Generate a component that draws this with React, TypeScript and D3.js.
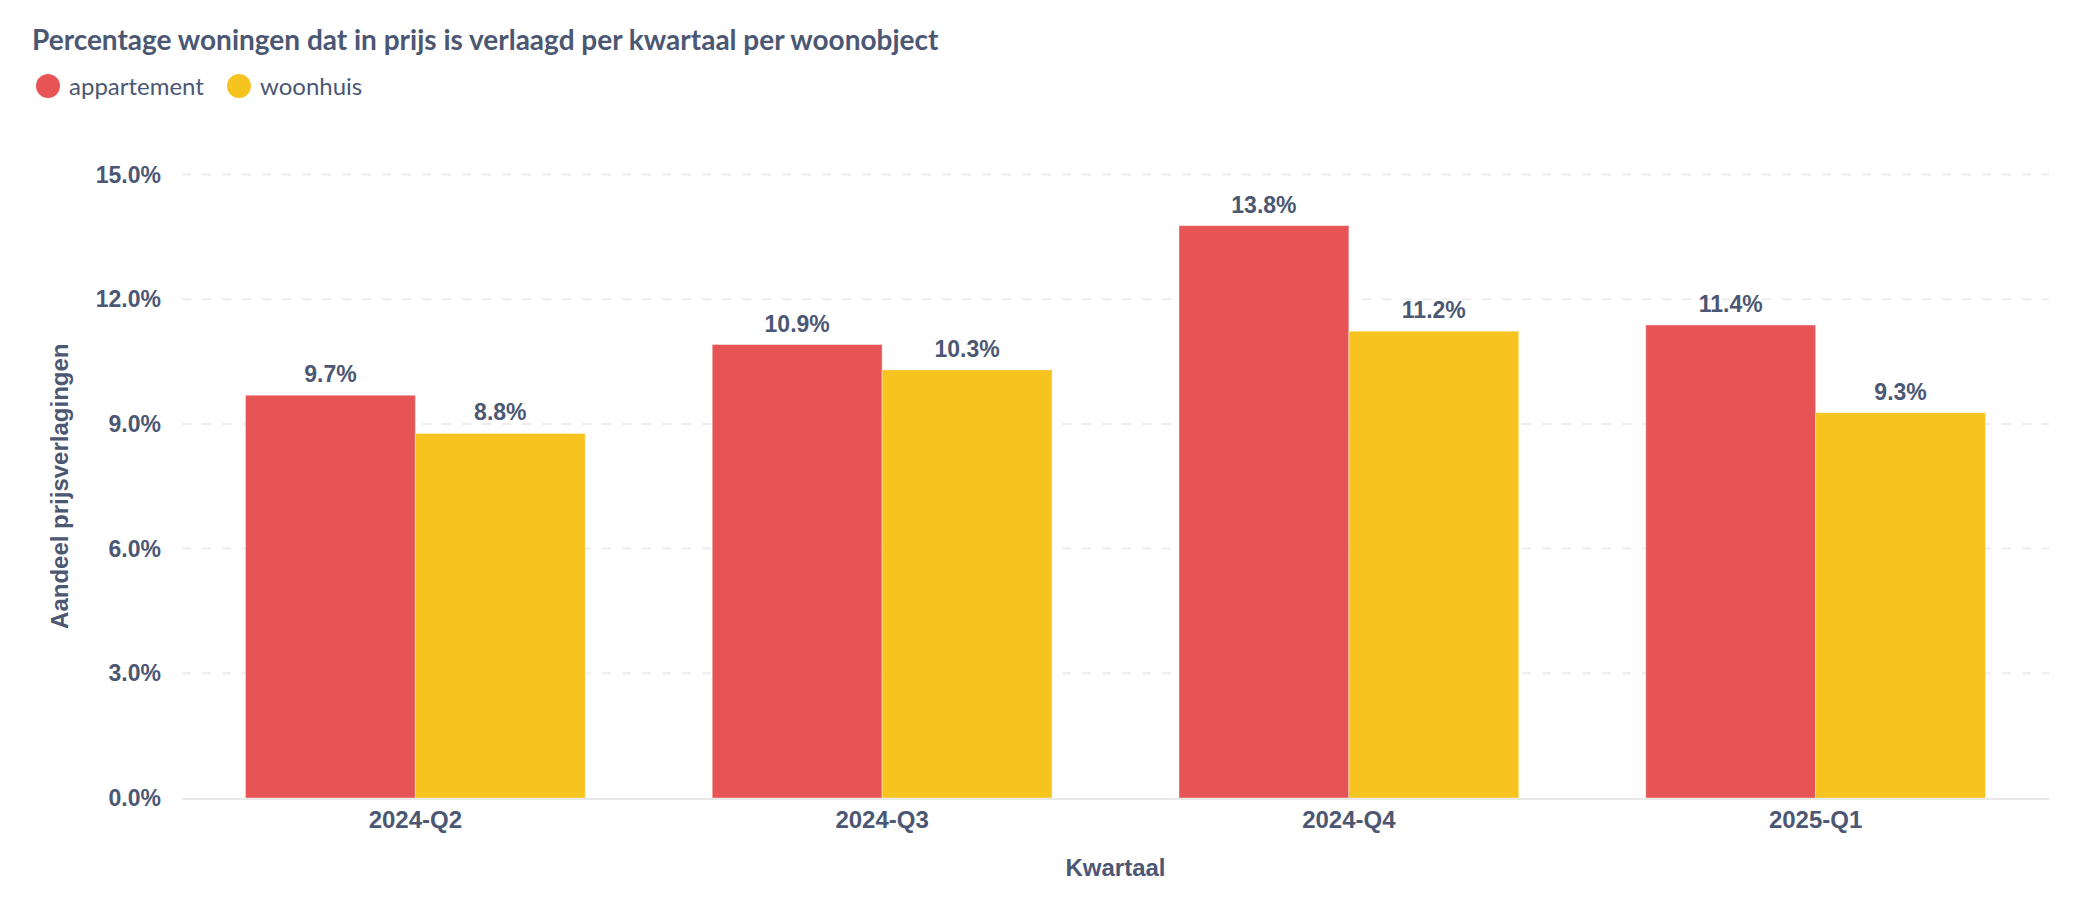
import * as React from "react";
import * as d3 from "d3";

const quarters = ["2024-Q2", "2024-Q3", "2024-Q4", "2025-Q1"];
const seriesNames = ["appartement", "woonhuis"];
const appartement = [9.69, 10.91, 13.77, 11.38];
const woonhuis = [8.77, 10.3, 11.23, 9.27];
const yTicks = [0, 3, 6, 9, 12, 15];

const colors = ["#E65456", "#F6C31F"];
const textColor = "#4C5773";
const axisFont = '"Liberation Sans", Arial, sans-serif';
const titleFont = 'Lato, "Noto Sans", sans-serif';

function barChart(svgRef: React.RefObject<SVGSVGElement>) {
  const width = 2096;
  const height = 908;
  const left = 182;
  const right = 2049;
  const top = 174.5;
  const bottom = 798;

  const svg = d3.select(svgRef.current);
  svg.selectAll("*").remove();
  svg.attr("width", width).attr("height", height);

  /* Title + legend */
  svg
    .append("text")
    .attr("x", 32)
    .attr("y", 50)
    .attr("font-family", titleFont)
    .attr("font-weight", 700)
    .attr("font-size", 28)
    .attr("fill", textColor)
    .text("Percentage woningen dat in prijs is verlaagd per kwartaal per woonobject");

  const legendX = [48, 239];
  const legend = svg
    .append("g")
    .selectAll("g")
    .data(seriesNames)
    .enter()
    .append("g")
    .attr("transform", (_d, i) => `translate(${legendX[i]}, 86)`);
  legend
    .append("circle")
    .attr("r", 12)
    .attr("fill", (_d, i) => colors[i]);
  legend
    .append("text")
    .attr("x", 21)
    .attr("y", 9)
    .attr("font-family", titleFont)
    .attr("font-size", 24)
    .attr("fill", textColor)
    .text((d) => d);

  /* Scales */
  const x0 = d3
    .scaleBand<string>()
    .domain(quarters)
    .range([left, right])
    .paddingInner(0.272)
    .paddingOuter(0.136);

  const x1 = d3
    .scaleBand<string>()
    .domain(seriesNames)
    .range([0, x0.bandwidth()]);

  const y = d3.scaleLinear().domain([0, 15]).range([bottom, top]);

  // gridlines
  svg
    .append("g")
    .selectAll("line")
    .data(yTicks.filter((t) => t > 0))
    .enter()
    .append("line")
    .attr("x1", left)
    .attr("x2", right)
    .attr("y1", (d) => y(d))
    .attr("y2", (d) => y(d))
    .attr("stroke", "#EDEDED")
    .attr("stroke-width", 2)
    .attr("stroke-dasharray", "9 11");

  // y tick labels
  svg
    .append("g")
    .selectAll("text")
    .data(yTicks)
    .enter()
    .append("text")
    .attr("x", 161)
    .attr("y", (d) => y(d) + 8)
    .attr("text-anchor", "end")
    .attr("font-family", axisFont)
    .attr("font-weight", 700)
    .attr("font-size", 23)
    .attr("fill", textColor)
    .text((d) => d.toFixed(1) + "%");

  /* Bars */
  const values = quarters.map((q, i) => [
    { q, s: seriesNames[0], v: appartement[i] },
    { q, s: seriesNames[1], v: woonhuis[i] },
  ]);

  const groups = svg
    .append("g")
    .selectAll("g")
    .data(values)
    .enter()
    .append("g")
    .attr("transform", (d) => `translate(${x0(d[0].q)}, 0)`);

  groups
    .selectAll("rect")
    .data((d) => d)
    .enter()
    .append("rect")
    .attr("x", (d) => x1(d.s)!)
    .attr("y", (d) => y(d.v))
    .attr("width", x1.bandwidth())
    .attr("height", (d) => bottom - y(d.v))
    .attr("fill", (d) => colors[seriesNames.indexOf(d.s)])
    .attr("stroke", "rgba(255,255,255,0.4)")
    .attr("stroke-width", 1);

  groups
    .selectAll("text")
    .data((d) => d)
    .enter()
    .append("text")
    .attr("x", (d) => x1(d.s)! + x1.bandwidth() / 2)
    .attr("y", (d) => y(d.v) - 13)
    .attr("text-anchor", "middle")
    .attr("font-family", axisFont)
    .attr("font-weight", 700)
    .attr("font-size", 23)
    .attr("fill", textColor)
    .text((d) => d.v.toFixed(1) + "%");

  // x axis baseline
  svg
    .append("line")
    .attr("x1", left)
    .attr("x2", right)
    .attr("y1", bottom + 1)
    .attr("y2", bottom + 1)
    .attr("stroke", "#E8E8E8")
    .attr("stroke-width", 2);

  // x tick labels
  svg
    .append("g")
    .selectAll("text")
    .data(quarters)
    .enter()
    .append("text")
    .attr("x", (d) => x0(d)! + x0.bandwidth() / 2)
    .attr("y", 828)
    .attr("text-anchor", "middle")
    .attr("font-family", axisFont)
    .attr("font-weight", 700)
    .attr("font-size", 24)
    .attr("fill", textColor)
    .text((d) => d);

  // axis titles
  svg
    .append("text")
    .attr("x", (left + right) / 2)
    .attr("y", 876)
    .attr("text-anchor", "middle")
    .attr("font-family", axisFont)
    .attr("font-weight", 700)
    .attr("font-size", 24)
    .attr("fill", textColor)
    .text("Kwartaal");

  svg
    .append("text")
    .attr("transform", `translate(68, ${(top + bottom) / 2}) rotate(-90)`)
    .attr("text-anchor", "middle")
    .attr("font-family", axisFont)
    .attr("font-weight", 700)
    .attr("font-size", 24)
    .attr("fill", textColor)
    .text("Aandeel prijsverlagingen");
}

export default function App() {
  const svg = React.useRef<SVGSVGElement>(null);
  React.useEffect(() => {
    barChart(svg);
  }, [svg]);

  return (
    <div style={{ position: "absolute", left: 0, top: 0, background: "#fff" }}>
      <svg ref={svg} style={{ display: "block" }} />
    </div>
  );
}
